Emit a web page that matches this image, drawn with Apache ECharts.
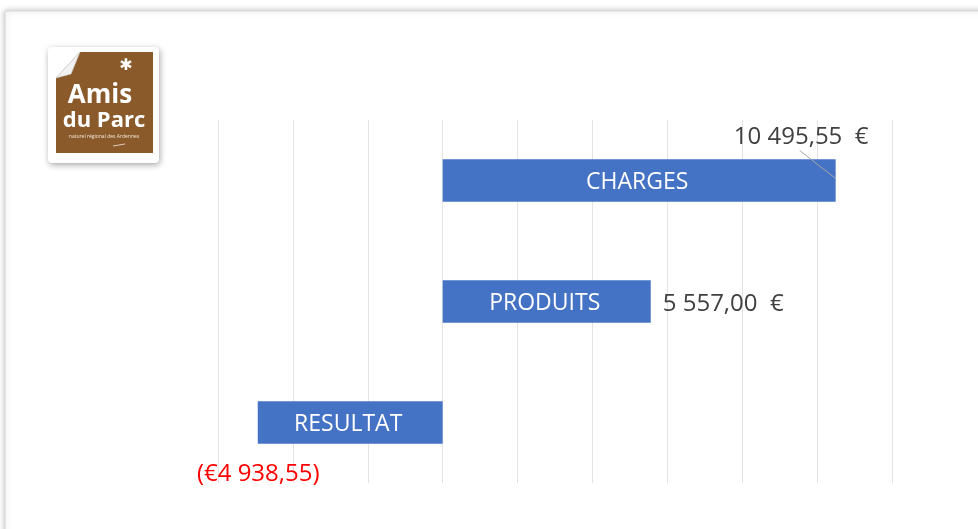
<!DOCTYPE html>
<html><head><meta charset="utf-8">
<script src="https://cdn.jsdelivr.net/npm/echarts@6/dist/echarts.min.js"></script>
<style>html,body{margin:0;padding:0;background:#fff}#c{width:978px;height:529px}</style>
</head><body><div id="c"></div>
<script>
const categories = ['CHARGES', 'PRODUITS', 'RESULTAT'];
const values = [10495.55, 5557.00, -4938.55];
const axisMin = -6000, axisMax = 12000, axisStep = 2000;

function fmt(v) {
  const a = Math.abs(v).toFixed(2).split('.');
  const int = a[0].replace(/\B(?=(\d{3})+(?!\d))/g, ' ');
  const s = int + ',' + a[1];
  return v < 0 ? '(€' + s + ')' : s + '  €';
}

const FONT = '"Open Sans", sans-serif';
const chart = echarts.init(document.getElementById('c'), null, {renderer: 'canvas'});

const valueLabelStyles = [
  {position: 'top', offset: [162, -5], color: '#404040'},
  {position: 'right', offset: [7, 3], color: '#404040'},
  {position: 'bottom', offset: [-92, 13], color: '#ff0000'}
];

chart.setOption({
  animation: false,
  backgroundColor: '#ffffff',
  grid: {left: 218, right: 86, top: 120, bottom: 46},
  xAxis: {
    type: 'value', min: axisMin, max: axisMax, interval: axisStep,
    axisLabel: {show: false}, axisLine: {show: false}, axisTick: {show: false},
    splitLine: {show: true, lineStyle: {color: '#e3e3e3', width: 1}}
  },
  yAxis: {
    type: 'category', data: categories, inverse: true,
    axisLabel: {show: false}, axisLine: {show: false}, axisTick: {show: false},
    splitLine: {show: false}
  },
  series: [
    {
      type: 'bar', data: values, barGap: '-100%', barCategoryGap: '65%',
      itemStyle: {color: '#4472C4'},
      label: {show: true, position: 'inside', offset: [-2, 2], formatter: p => p.name,
        color: '#ffffff', fontSize: 23, fontFamily: FONT}
    },
    {
      type: 'bar', barGap: '-100%', barCategoryGap: '65%',
      itemStyle: {color: 'rgba(0,0,0,0)'},
      data: values.map((v, i) => ({
        value: v,
        label: {show: true, position: valueLabelStyles[i].position,
          offset: valueLabelStyles[i].offset, color: valueLabelStyles[i].color,
          formatter: () => fmt(v), fontSize: 24, fontFamily: FONT}
      }))
    }
  ]
});

const end = chart.convertToPixel({gridIndex: 0}, [values[0], 0]);

chart.setOption({
  graphic: [
    {type: 'rect', silent: true, z: -10, shape: {x: 5, y: 11, width: 1100, height: 700},
      style: {fill: '#fff', stroke: '#d6d6d6', lineWidth: 1, shadowBlur: 6, shadowColor: 'rgba(0,0,0,0.25)'}},
    {type: 'line', silent: true, z: 10,
      shape: {x1: end[0] - 36, y1: end[1] - 30, x2: end[0], y2: end[1] - 2},
      style: {stroke: '#a6a6a6', lineWidth: 1}},
    {type: 'group', silent: true, z: 20, children: [
      {type: 'rect', shape: {x: 48, y: 47, width: 111, height: 116, r: 4},
        style: {fill: '#ffffff', shadowBlur: 6, shadowColor: 'rgba(0,0,0,0.35)', shadowOffsetX: 1, shadowOffsetY: 2}},
      {type: 'polygon', shape: {points: [[80, 52], [153, 52], [153, 153], [56, 153], [56, 78]]},
        style: {fill: '#8a5a2b'}},
      {type: 'polygon', shape: {points: [[56, 78], [80, 52], [71, 74]]},
        style: {fill: '#f2f2f2', stroke: '#cfcfcf', lineWidth: 0.6}},
      {type: 'text', style: {x: 126, y: 66, text: '✱', fill: '#ffffff', fontSize: 16, fontWeight: 'bold', align: 'center', verticalAlign: 'middle', fontFamily: 'DejaVu Sans'}},
      {type: 'text', style: {x: 100, y: 96, text: 'Amis', fill: '#ffffff', fontSize: 26, fontWeight: 'bold', align: 'center', verticalAlign: 'middle', fontFamily: FONT}},
      {type: 'text', style: {x: 104, y: 121, text: 'du Parc', fill: '#ffffff', fontSize: 22, fontWeight: 'bold', align: 'center', verticalAlign: 'middle', fontFamily: FONT}},
      {type: 'text', style: {x: 104, y: 137, text: 'naturel régional des Ardennes', fill: '#f3e6d8', fontSize: 5, align: 'center', verticalAlign: 'middle', fontFamily: FONT}},
      {type: 'line', shape: {x1: 113, y1: 146, x2: 125, y2: 144}, style: {stroke: '#f3e6d8', lineWidth: 0.8}}
    ]}
  ]
});
</script></body></html>
